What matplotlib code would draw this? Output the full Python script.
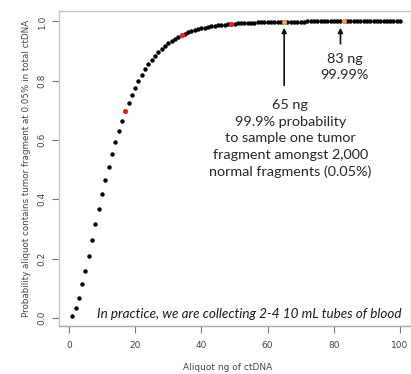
import numpy as np
import matplotlib
matplotlib.use('Agg')
import matplotlib.pyplot as plt

# aliquot size (ng) and probability
ng = np.arange(1, 101)
prob = [0.008, 0.034, 0.068, 0.114, 0.160, 0.210, 0.264, 0.316, 0.367, 0.417,
        0.464, 0.509, 0.553, 0.593, 0.630, 0.664, 0.697, 0.725, 0.752, 0.777,
        0.800, 0.820, 0.839, 0.855, 0.869, 0.884, 0.896, 0.907, 0.917, 0.926,
        0.934, 0.941, 0.947, 0.953, 0.958, 0.963, 0.967, 0.971, 0.974, 0.977,
        0.979, 0.981, 0.983, 0.985, 0.987, 0.988, 0.989, 0.990, 0.991, 0.992,
        0.993, 0.994, 0.994, 0.995, 0.996, 0.996, 0.997, 0.997, 0.997, 0.998,
        0.998, 0.998, 0.998, 0.999, 0.999, 0.999, 0.999, 0.999, 0.999, 0.999,
        0.999, 1.000, 1.000, 1.000, 1.000, 1.000, 1.000, 1.000, 1.000, 1.000,
        1.000, 1.000, 1.000, 1.000, 1.000, 1.000, 1.000, 1.000, 1.000, 1.000,
        1.000, 1.000, 1.000, 1.000, 1.000, 1.000, 1.000, 1.000, 1.000, 1.000]
red_ng = [17, 34, 49]
orange_ng = [65, 83]

xticks = [0, 20, 40, 60, 80, 100]
yticks = [0.0, 0.2, 0.4, 0.6, 0.8, 1.0]

prob = np.array(prob)

fig = plt.figure(figsize=(4.11, 3.74), dpi=100)
ax = fig.add_axes([59 / 411, 1 - 326 / 374, 352 / 411, 315 / 374])

ax.plot(ng, prob, 'o', color='k', markersize=3.2, markeredgewidth=0)
ax.plot(red_ng, prob[np.array(red_ng) - 1], 'o', color='#ff1a1a',
        markersize=3.6, markeredgewidth=0)
ax.plot(orange_ng, prob[np.array(orange_ng) - 1], 'o', color='#f5a04a',
        markersize=3.6, markeredgewidth=0)

ax.set_xlim(-3, 103.3)
ax.set_ylim(-0.027, 1.035)
ax.set_xticks(xticks)
ax.set_yticks(yticks)
ax.set_xticklabels([str(t) for t in xticks])
ax.set_yticklabels(['%.1f' % t for t in yticks], rotation=90, va='center')

for s in ax.spines.values():
    s.set_color('#c4c4c4')
    s.set_linewidth(1.0)
ax.spines['bottom'].set_color('#a8a8a8')
ax.tick_params(colors='#777777', labelcolor='#444444', labelsize=6.5,
               length=5, width=0.8)
ax.tick_params(axis='y', pad=4)
ax.tick_params(axis='x', pad=6)

ax.set_ylabel('Probability aliquot contains tumor fragment at 0.05% in total ctDNA',
              fontsize=6.3, color='#444444', labelpad=5)
fig.text(228 / 411, 1 - 368 / 374, 'Aliquot ng of ctDNA', fontsize=6.5,
         color='#444444', ha='center', va='center')

# annotations
ax.annotate('', xy=(65, 0.988), xytext=(65, 0.775),
            arrowprops=dict(arrowstyle='-|>', color='#111111', lw=1.2,
                            mutation_scale=7))
ax.text(66.8, 0.738, '65 ng\n99.9% probability\nto sample one tumor\n'
        'fragment amongst 2,000\nnormal fragments (0.05%)',
        family='Lato', fontsize=10.4, color='#262626', ha='center', va='top',
        linespacing=1.45)
ax.annotate('', xy=(82, 0.988), xytext=(82, 0.915),
            arrowprops=dict(arrowstyle='-|>', color='#111111', lw=1.2,
                            mutation_scale=7))
ax.text(83.3, 0.894, '83 ng\n99.99%', family='Lato', fontsize=10.4,
        color='#262626', ha='center', va='top', linespacing=1.45)

ax.text(54.5, 0.013, 'In practice, we are collecting 2-4 10 mL tubes of blood',
        family='Lato', style='italic', fontsize=9.7, color='#1a1a1a',
        ha='center', va='center')

fig.savefig('out.png', dpi=100)
